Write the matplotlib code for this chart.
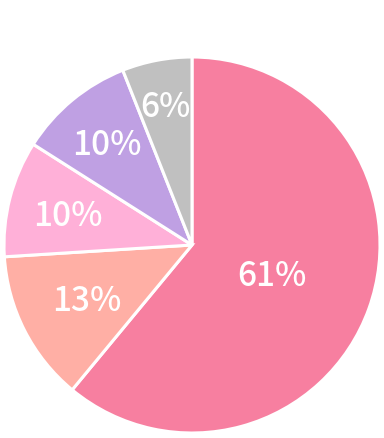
import numpy as np
import matplotlib
matplotlib.use("Agg")
import matplotlib.pyplot as plt

plt.rcParams["font.family"] = ["Noto Sans CJK JP", "DejaVu Sans"]

# slice data, clockwise from 12 o'clock
values = [61, 13, 10, 10, 6]
labels = ["61%", "13%", "10%", "10%", "6%"]
colors = ["#F77FA0", "#FFAFA5", "#FFB0D8", "#BFA0E3", "#C0C0C0"]
label_r = [0.45, 0.63, 0.68, 0.71, 0.76]

W, H = 384, 438
fig = plt.figure(figsize=(W / 100, H / 100), dpi=100)
cx, cy, R = 192, 245, 188
ax = fig.add_axes([(cx - R) / W, (H - cy - R) / H, 2 * R / W, 2 * R / H])

wedges, _ = ax.pie(values, colors=colors, startangle=90, counterclock=False,
                   radius=1, wedgeprops=dict(edgecolor="white", linewidth=2.2))
for w, lab, fr in zip(wedges, labels, label_r):
    mid = np.deg2rad((w.theta1 + w.theta2) / 2)
    ax.text(fr * np.cos(mid), fr * np.sin(mid) - 0.017, lab, ha="center", va="center",
            color="white", fontsize=24, fontweight="medium")
ax.set_xlim(-1, 1); ax.set_ylim(-1, 1)
ax.set_aspect("equal"); ax.axis("off")

fig.savefig("out.png", dpi=100, facecolor="white")
